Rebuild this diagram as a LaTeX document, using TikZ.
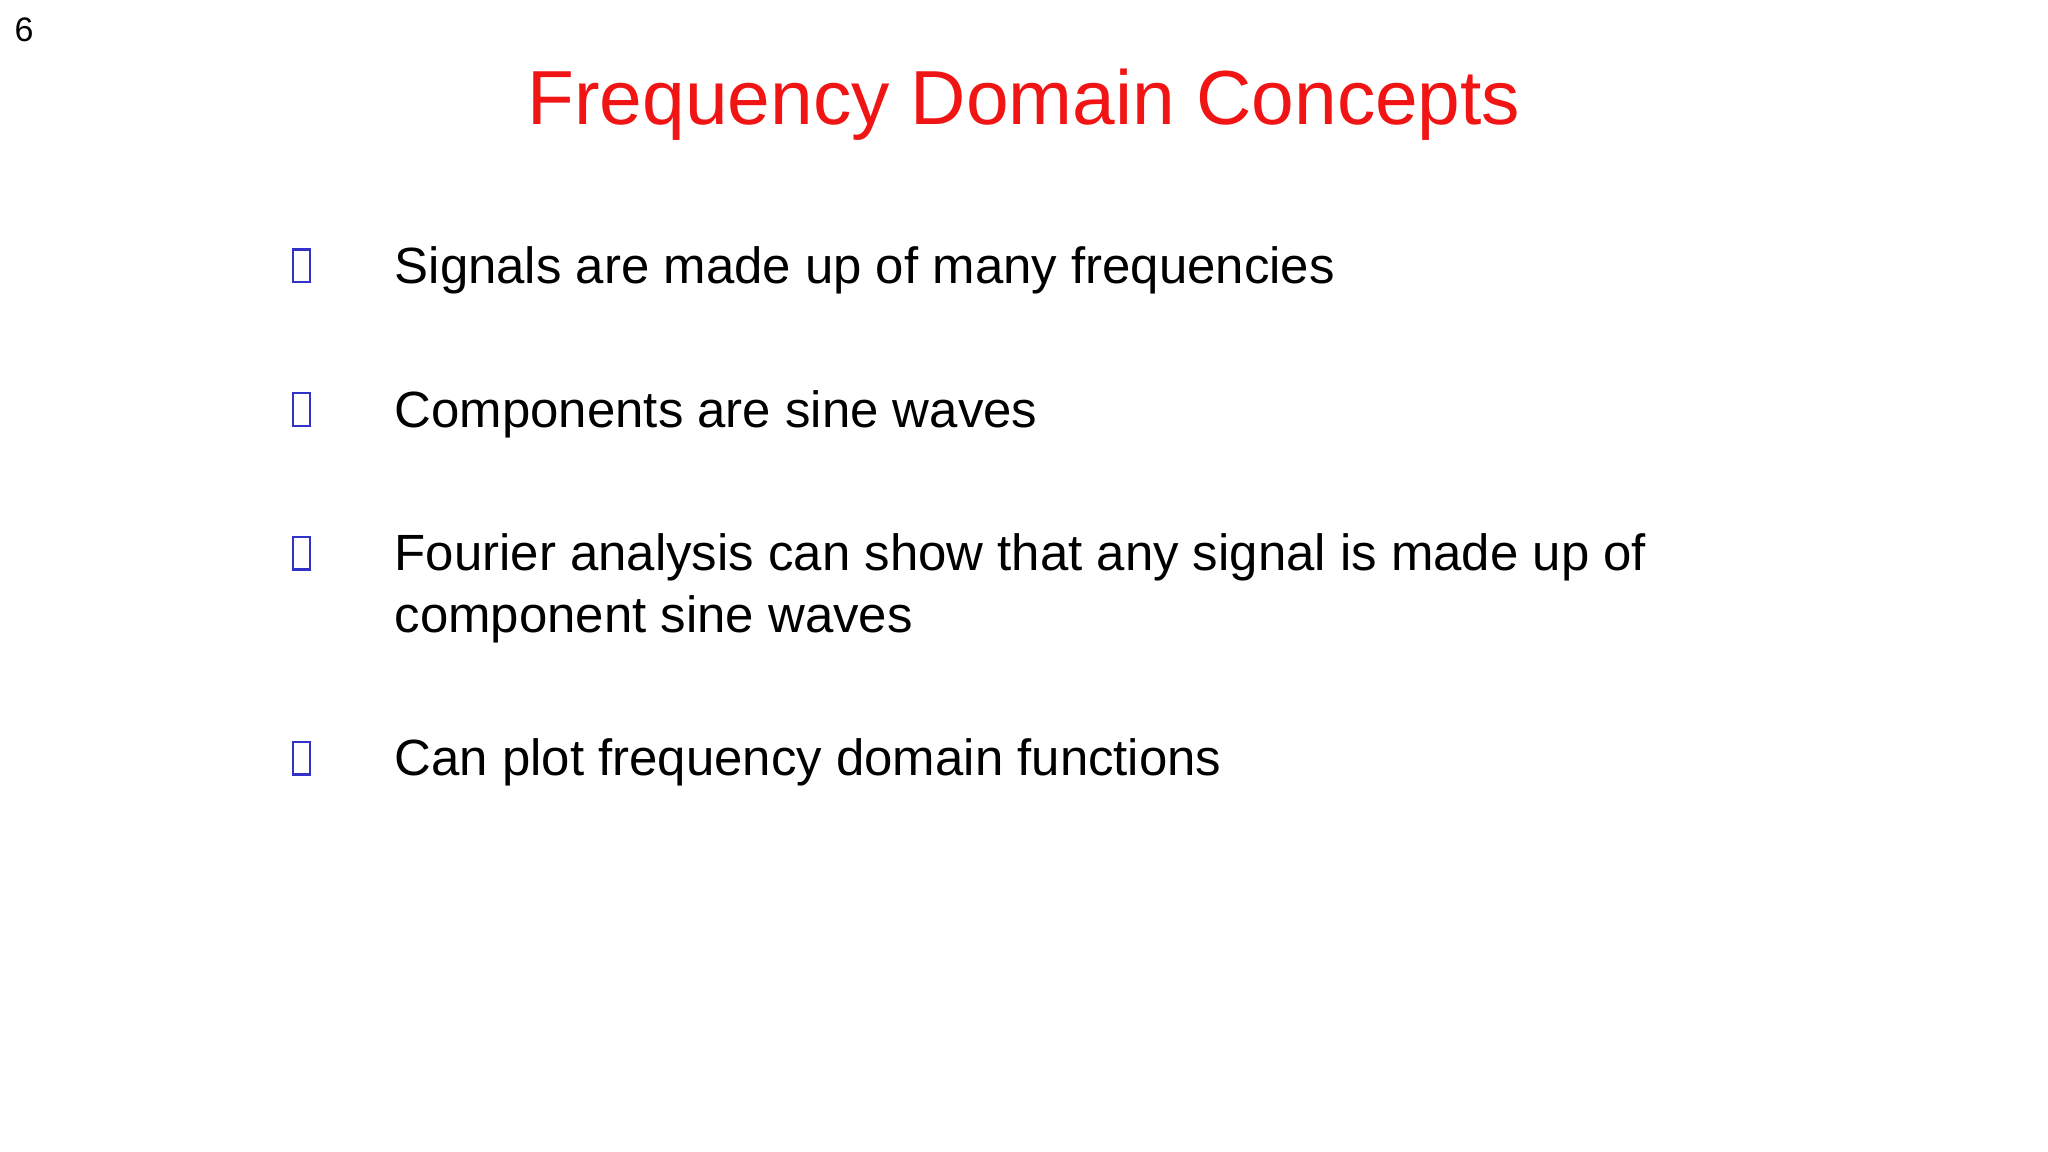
\documentclass[tikz,border=0pt]{standalone}
\usepackage{fontspec}
\setmainfont{Liberation Sans}
\definecolor{titlered}{RGB}{240,20,20}
\definecolor{bulletblue}{RGB}{50,50,200}
\begin{document}
\begin{tikzpicture}[x=1pt,y=-1pt,
  body/.style={anchor=base west,inner sep=0pt,font=\fontsize{39}{47}\selectfont,align=left},
  bul/.style={draw=bulletblue,line width=1.6pt}]
\useasboundingbox (0,0) rectangle (1568,882);
\node[anchor=base west,inner sep=0pt,font=\fontsize{26}{30}\selectfont] (pg) at (11,32) {6};
\node[anchor=base,inner sep=0pt,text=titlered,font=\fontsize{58.7}{70}\selectfont] (title) at (784,95) {Frequency Domain Concepts};
\foreach \y/\n in {218/1,328/2,438/3,595/4}{
  \draw[bul] (224,\y-27) rectangle (237,\y-2);
}
\node[body] (b1) at (302,217) {Signals are made up of many frequencies};
\node[body] (b2) at (302,327) {Components are sine waves};
\node[body] (b3) at (302,437) {Fourier analysis can show that any signal is made up of};
\node[body] (b3b) at (302,484) {component sine waves};
\node[body] (b4) at (302,594) {Can plot frequency domain functions};
\end{tikzpicture}
\end{document}
